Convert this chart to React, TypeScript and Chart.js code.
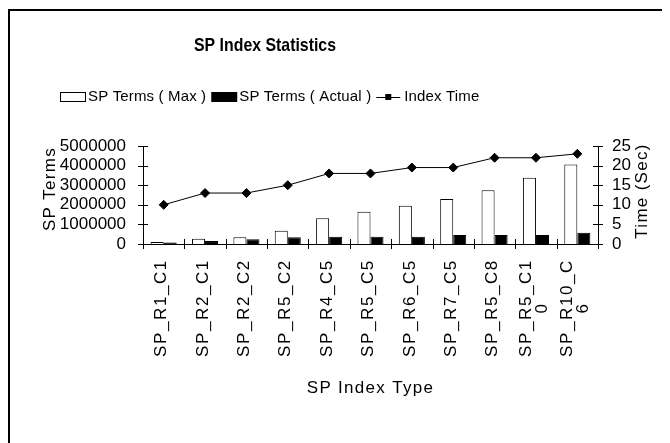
import React, { useEffect, useRef } from "react";
import { Chart, registerables } from "chart.js";

Chart.register(...registerables);

const categories = ["SP_R1_C1", "SP_R2_C1", "SP_R2_C2", "SP_R5_C2", "SP_R4_C5", "SP_R5_C5", "SP_R6_C5", "SP_R7_C5", "SP_R5_C8", "SP_R5_C10", "SP_R10_C6"];
const categoryLines = [["SP_R1_C1"], ["SP_R2_C1"], ["SP_R2_C2"], ["SP_R5_C2"], ["SP_R4_C5"], ["SP_R5_C5"], ["SP_R6_C5"], ["SP_R7_C5"], ["SP_R5_C8"], ["SP_R5_C1", "0"], ["SP_R10_C", "6"]];
const termsMax = [100000, 270000, 340000, 680000, 1310000, 1650000, 1950000, 2300000, 2740000, 3380000, 4060000];
const termsActual = [80000, 150000, 240000, 340000, 370000, 370000, 370000, 460000, 460000, 460000, 580000];
const indexTime = [10, 13, 13, 15, 18, 18, 19.5, 19.5, 22, 22, 23];
const seriesNames = ["SP Terms ( Max )", "SP Terms ( Actual )", "Index Time"];
const titleText = "SP Index Statistics";
const xTitle = "SP Index Type";
const yTitle = "SP Terms";
const y1Title = "Time (Sec)";

const FONT = '"Liberation Sans", Arial, Helvetica, sans-serif';
const FS = 17;
const LEG_FS = 15;

const decorPlugin = {
  id: "decor",
  afterDraw(chart: any) {
    const ctx = chart.ctx;
    const ca = chart.chartArea;
    const xs = chart.scales.x;
    const ys = chart.scales.y;
    const y1 = chart.scales.y1;
    ctx.save();
    ctx.fillStyle = "#000";
    ctx.strokeStyle = "#000";
    ctx.lineWidth = 1;

    // tick marks crossing axes
    ctx.beginPath();
    ys.ticks.forEach((t: any) => {
      const y = Math.round(ys.getPixelForValue(t.value)) + 0.5;
      ctx.moveTo(ca.left - 5, y);
      ctx.lineTo(ca.left + 5, y);
    });
    y1.ticks.forEach((t: any) => {
      const y = Math.round(y1.getPixelForValue(t.value)) + 0.5;
      ctx.moveTo(ca.right - 5, y);
      ctx.lineTo(ca.right + 5, y);
    });
    const n = categories.length;
    for (let i = 0; i <= n; i++) {
      const x = Math.round(ca.left + (i * (ca.right - ca.left)) / n) + 0.5;
      ctx.moveTo(x, ca.bottom - 5);
      ctx.lineTo(x, ca.bottom + 5);
    }
    ctx.stroke();

    // x tick labels (rotated, centered)
    ctx.font = `${FS}px ${FONT}`;
    ctx.letterSpacing = "1.6px";
    ctx.textAlign = "center";
    ctx.textBaseline = "middle";
    const lh = 16;
    categoryLines.forEach((lines, i) => {
      const x = xs.getPixelForValue(i) - 2;
      ctx.save();
      ctx.translate(x, 300);
      ctx.rotate(-Math.PI / 2);
      lines.forEach((ln, j) => {
        ctx.fillText(ln, 0, (j - (lines.length - 1) / 2) * lh);
      });
      ctx.restore();
    });

    // axis titles
    ctx.letterSpacing = "1.3px";
    ctx.fillText(xTitle, (ca.left + ca.right) / 2, 380);
    ctx.save();
    ctx.translate(42, (ca.top + ca.bottom) / 2 - 6);
    ctx.rotate(-Math.PI / 2);
    ctx.fillText(yTitle, 0, 0);
    ctx.restore();
    ctx.save();
    ctx.translate(634, (ca.top + ca.bottom) / 2 - 4);
    ctx.rotate(-Math.PI / 2);
    ctx.fillText(y1Title, 0, 0);
    ctx.restore();
    ctx.letterSpacing = "0px";

    // title (slightly condensed bold face)
    ctx.font = `bold 19px ${FONT}`;
    const tw = ctx.measureText(titleText).width;
    const target = 142;
    ctx.save();
    ctx.translate(257, 38);
    ctx.scale(target / tw, 1);
    ctx.fillText(titleText, 0, 0);
    ctx.restore();

    // legend
    ctx.font = `${LEG_FS}px ${FONT}`;
    ctx.letterSpacing = "0.15px";
    ctx.textAlign = "left";
    const ly = 89;
    let x = 52;
    ctx.strokeRect(x + 0.5, ly - 4.5, 25, 9);
    x += 28;
    ctx.fillText(seriesNames[0], x, ly);
    x += ctx.measureText(seriesNames[0]).width + 5;
    ctx.fillRect(x, ly - 5, 26, 10);
    x += 28;
    ctx.fillText(seriesNames[1], x, ly);
    x += ctx.measureText(seriesNames[1]).width + 5;
    ctx.beginPath();
    ctx.moveTo(x, ly + 0.5);
    ctx.lineTo(x + 24, ly + 0.5);
    ctx.stroke();
    ctx.fillRect(x + 9, ly - 3, 6, 6);
    x += 28;
    ctx.fillText(seriesNames[2], x, ly);
    ctx.letterSpacing = "0px";
    ctx.restore();
  },
};

export default function App() {
  const ref = useRef<HTMLCanvasElement>(null);
  useEffect(() => {
    if (!ref.current) return;
    const chart = new Chart(ref.current, {
      type: "bar",
      data: {
        labels: categories,
        datasets: [
          {
            type: "line",
            label: seriesNames[2],
            data: indexTime,
            yAxisID: "y1",
            borderColor: "#000",
            backgroundColor: "#000",
            borderWidth: 1,
            pointStyle: "rectRot",
            pointRadius: 4.5,
            pointBackgroundColor: "#000",
            pointBorderColor: "#000",
            tension: 0,
            order: 0,
          } as any,
          {
            label: seriesNames[0],
            data: termsMax,
            yAxisID: "y",
            backgroundColor: "#fff",
            borderColor: "#000",
            borderWidth: 1,
            categoryPercentage: 0.63,
            barPercentage: 1,
            order: 1,
          },
          {
            label: seriesNames[1],
            data: termsActual,
            yAxisID: "y",
            backgroundColor: "#000",
            borderColor: "#000",
            borderWidth: 1,
            categoryPercentage: 0.63,
            barPercentage: 1,
            order: 1,
          },
        ],
      },
      options: {
        responsive: false,
        animation: false,
        layout: { padding: { top: 138, left: 0, right: 0, bottom: 0 } },
        plugins: { legend: { display: false }, title: { display: false }, tooltip: { enabled: false } },
        scales: {
          x: {
            grid: { display: false, drawTicks: false },
            border: { display: true, color: "#000", width: 1 },
            ticks: { display: false },
            afterFit: (s: any) => { s.height = 199; },
          },
          y: {
            position: "left",
            min: 0,
            max: 5000000,
            grid: { display: false, drawTicks: false },
            border: { display: true, color: "#000", width: 1 },
            ticks: {
              stepSize: 1000000,
              autoSkip: false,
              padding: 17,
              color: "#000",
              font: { family: FONT, size: FS },
              callback: (v: any) => String(v),
            },
            afterFit: (s: any) => { s.width = 135; },
          },
          y1: {
            position: "right",
            min: 0,
            max: 25,
            grid: { display: false, drawTicks: false },
            border: { display: true, color: "#000", width: 1 },
            ticks: {
              stepSize: 5,
              autoSkip: false,
              padding: 14,
              color: "#000",
              font: { family: FONT, size: FS },
            },
            afterFit: (s: any) => { s.width = 72; },
          },
        },
      },
      plugins: [decorPlugin],
    });
    return () => chart.destroy();
  }, []);
  return (
    <div style={{ position: "relative", width: 662, height: 435, overflow: "hidden" }}>
      <div style={{ position: "absolute", left: 0, top: 1, width: 800, height: 600, border: "2px solid #000" }} />
      <canvas ref={ref} width={662} height={435} style={{ position: "absolute", left: 0, top: 0, width: 662, height: 435 }} />
    </div>
  );
}
